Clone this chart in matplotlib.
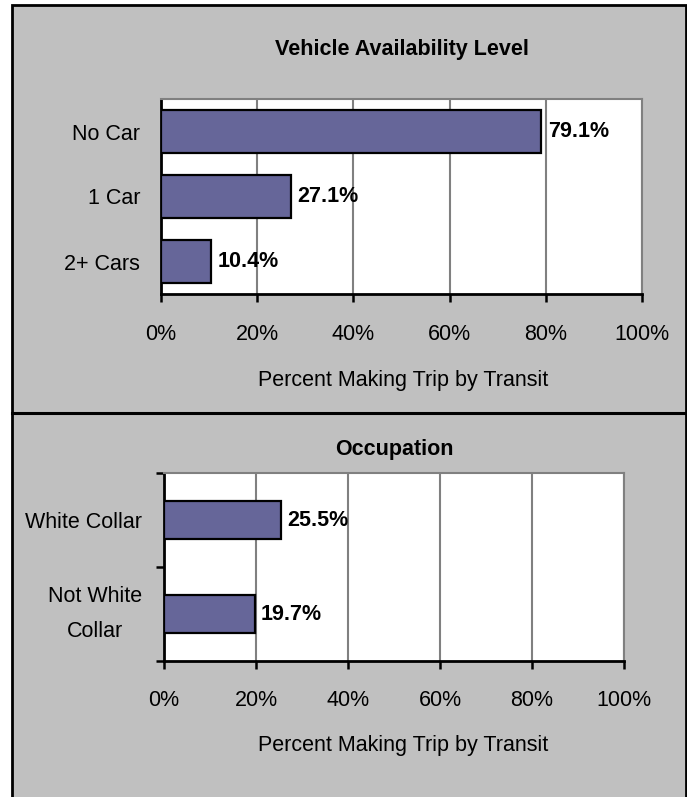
import matplotlib
matplotlib.use("Agg")
import matplotlib.pyplot as plt
from matplotlib.lines import Line2D
from matplotlib.patches import Rectangle
from matplotlib import font_manager

# ---- data ----
veh_categories = ["No Car", "1 Car", "2+ Cars"]
veh_values = [79.1, 27.1, 10.4]
occ_categories = ["White Collar", "Not White\nCollar"]
occ_values = [25.5, 19.7]
x_ticks = [0, 20, 40, 60, 80, 100]
x_ticklabels = ["0%", "20%", "40%", "60%", "80%", "100%"]
x_label = "Percent Making Trip by Transit"
titles = ["Vehicle Availability Level", "Occupation"]

names = {f.name for f in font_manager.fontManager.ttflist}
fam = ["Liberation Sans Narrow", "DejaVu Sans"] if "Liberation Sans Narrow" in names else ["Liberation Sans", "DejaVu Sans"]
plt.rcParams["font.family"] = fam

W, H = 687, 797
fig = plt.figure(figsize=(W / 100, H / 100), dpi=100)
fig.patch.set_facecolor("white")

def fx(px):
    return px / W

def fy(py):
    return 1 - py / H

# background panel
fig.add_artist(Rectangle((fx(12), fy(800)), fx(686) - fx(12), fy(5) - fy(800),
                         transform=fig.transFigure, facecolor="#c0c0c0",
                         edgecolor="black", linewidth=2, zorder=0))
fig.add_artist(Line2D([fx(12), fx(686)], [fy(413), fy(413)], transform=fig.transFigure,
                      color="black", linewidth=2.2, zorder=1))

BAR = "#666699"
GRID = "#808080"
FS = 15.5

def make_axes(rect_px, cats, vals, title, title_y, bar_h, yticks_out, xpad, ypad, label_y):
    l, t, r, b = rect_px
    ax = fig.add_axes([fx(l), fy(b), fx(r) - fx(l), fy(t) - fy(b)])
    ax.set_facecolor("white")
    n = len(cats)
    ypos = list(range(n))[::-1]
    ax.barh(ypos, vals, height=bar_h, color=BAR, edgecolor="black", linewidth=1.6, zorder=3)
    for y, v in zip(ypos, vals):
        ax.text(v + 1.3, y, f"{v:.1f}%", va="center", ha="left", fontsize=FS,
                fontweight="bold", zorder=4)
    ax.set_xlim(0, 100)
    ax.set_ylim(-0.5, n - 0.5)
    ax.set_xticks(x_ticks)
    ax.set_xticklabels(x_ticklabels, fontsize=FS)
    ax.xaxis.grid(True, color=GRID, linewidth=1.5, zorder=1)
    ax.set_axisbelow(True)
    ax.tick_params(axis="x", direction="out", length=6, width=1.8, pad=xpad)
    if yticks_out:
        ax.set_yticks([i - 0.5 for i in range(n + 1)], minor=False)
        ax.set_yticklabels([""] * (n + 1))
        ax.tick_params(axis="y", which="major", direction="out", length=6, width=1.8)
        ax.set_yticks(ypos, minor=True)
        labs = ax.set_yticklabels(cats, minor=True, fontsize=FS, linespacing=1.9)
        for lab in labs:
            lab.set_multialignment("center")
            if "\n" in lab.get_text():
                lab.set_verticalalignment("center")
        ax.tick_params(axis="y", which="minor", length=0, pad=ypad)
    else:
        ax.set_yticks(ypos)
        ax.set_yticklabels(cats, fontsize=FS)
        ax.tick_params(axis="y", length=0, pad=ypad)
    for s in ["left", "bottom"]:
        ax.spines[s].set_color("black")
        ax.spines[s].set_linewidth(2)
    for s in ["top", "right"]:
        ax.spines[s].set_color(GRID)
        ax.spines[s].set_linewidth(1.5)
    fig.text(fx((l + r) / 2), fy(title_y), title, ha="center", va="center",
             fontsize=FS, fontweight="bold")
    fig.text(fx(403), fy(label_y), x_label, ha="center", va="center", fontsize=FS)
    return ax

make_axes((161, 99, 642, 294), veh_categories, veh_values, titles[0], 49, 0.66, False, 15.6, 15, 380)
make_axes((164, 473, 624, 661), occ_categories, occ_values, titles[1], 449, 0.4, True, 14.6, 16, 745)

fig.savefig("out.png", dpi=100, facecolor=fig.get_facecolor())
